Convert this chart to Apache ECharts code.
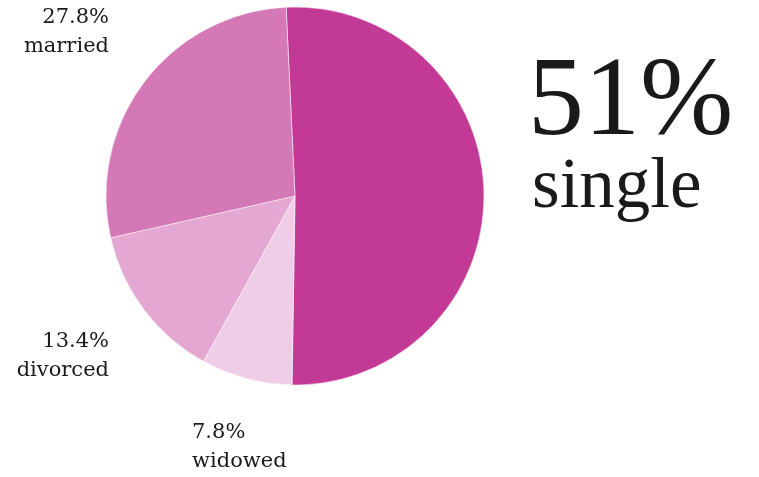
<!DOCTYPE html>
<html><head><meta charset="utf-8">
<script src="https://cdn.jsdelivr.net/npm/echarts@6/dist/echarts.min.js"></script>
<style>html,body{margin:0;padding:0;background:#fff}#c{width:759px;height:477px}</style>
</head><body><div id="c"></div>
<script>
const categories = ['single', 'widowed', 'divorced', 'married'];
const values = [51, 7.8, 13.4, 27.8];
const colors = ['#C23A96', '#F0CDE6', '#E4A7D1', '#D479B5'];
const headline = { value: '51%', label: 'single' };

const labelSpots = [
  null,
  { x: 192, y: 447, align: 'left' },
  { x: 109, y: 356, align: 'right' },
  { x: 109, y: 32, align: 'right' }
];

const chart = echarts.init(document.getElementById('c'), null, { renderer: 'canvas' });
chart.setOption({
  animation: false,
  series: [{
    type: 'pie',
    center: [295, 196],
    radius: [0, 189],
    startAngle: 92.7,
    clockwise: true,
    data: categories.map((c, i) => ({ name: c, value: values[i], itemStyle: { color: colors[i] },
      label: { show: i !== 0 } })),
    itemStyle: { borderColor: '#fff', borderWidth: 0.5 },
    label: {
      position: 'outside',
      formatter: p => p.value.toFixed(1) + '%\n' + p.name,
      fontFamily: 'DejaVu Serif',
      fontSize: 21,
      lineHeight: 29,
      color: '#1a1a1a',
      overflow: 'none',
      width: 200
    },
    labelLine: { show: false },
    labelLayout: p => {
      const s = labelSpots[p.dataIndex];
      return s ? { x: s.x, y: s.y, align: s.align, verticalAlign: 'middle' } : {};
    }
  }],
  graphic: [
    { type: 'text', left: 528, top: 49, style: { text: headline.value, font: '112px "Liberation Serif"', fill: '#1a1a1a' } },
    { type: 'text', left: 532, top: 153, style: { text: headline.label, font: '71px "Liberation Serif"', fill: '#1a1a1a' } }
  ]
});
</script></body></html>
